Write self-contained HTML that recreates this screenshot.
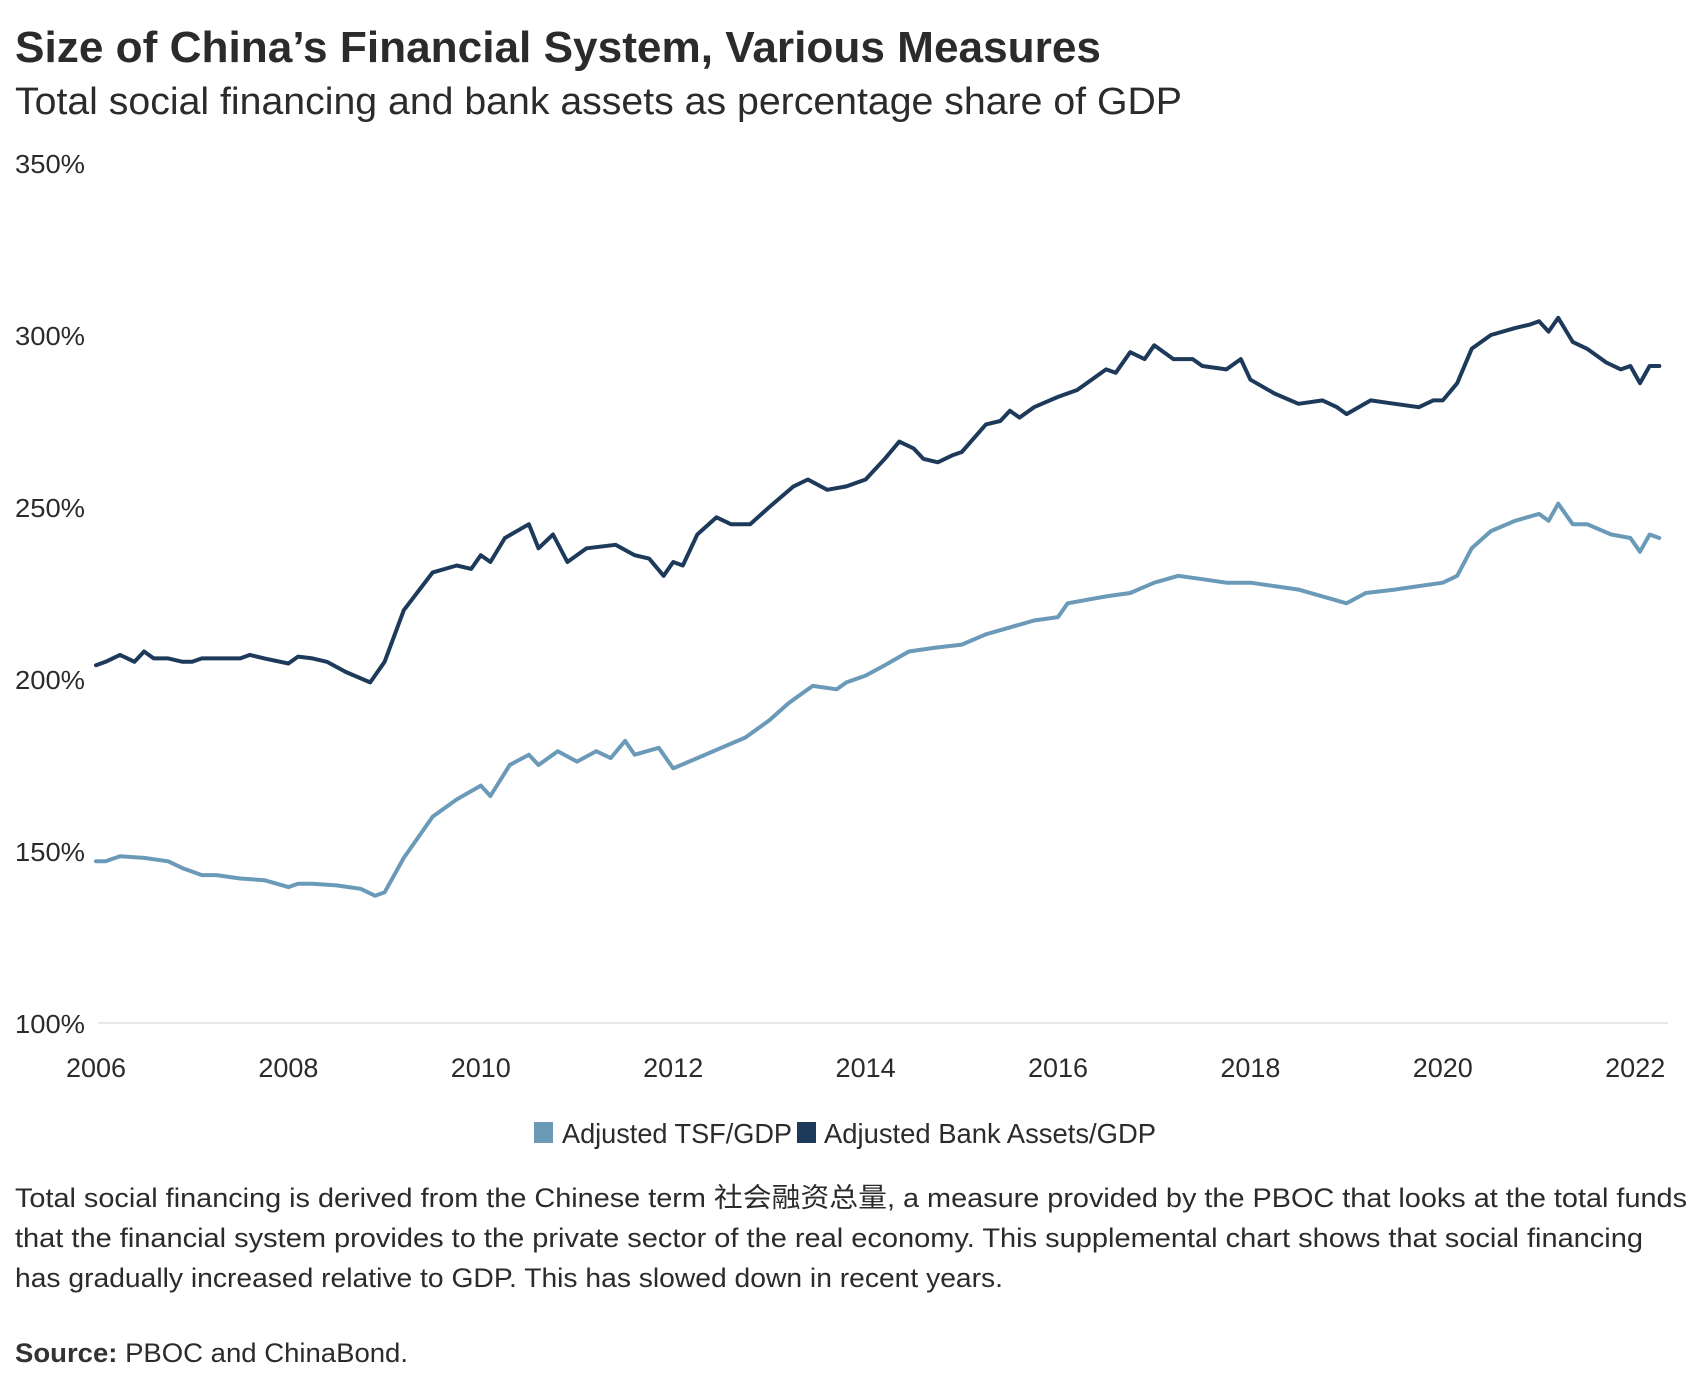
<!DOCTYPE html>
<html><head><meta charset="utf-8"><style>
body{margin:0;background:#fff;width:1706px;height:1386px;overflow:hidden}
svg{display:block}
text{font-family:"Liberation Sans","Noto Sans CJK SC",sans-serif;fill:#2b2b2b}
</style></head><body>
<svg id="chart" width="1706" height="1386" viewBox="0 0 1706 1386">
<text x="15" y="62" font-size="44" font-weight="bold" fill="#333" textLength="1086" lengthAdjust="spacingAndGlyphs">Size of China’s Financial System, Various Measures</text>
<text x="15" y="114" font-size="38" textLength="1167" lengthAdjust="spacingAndGlyphs">Total social financing and bank assets as percentage share of GDP</text>
<g id="axes"></g>
<g id="series"></g>
<g>
<rect x="534" y="1122" width="19" height="21" fill="#6a9ab8"/>
<text x="562" y="1143" font-size="28" textLength="230" lengthAdjust="spacingAndGlyphs">Adjusted TSF/GDP</text>
<rect x="797" y="1122" width="19" height="21" fill="#1e3a5a"/>
<text x="824" y="1143" font-size="28" textLength="332" lengthAdjust="spacingAndGlyphs">Adjusted Bank Assets/GDP</text>
</g>
<g font-size="27">
<text x="15" y="1207" textLength="1672" lengthAdjust="spacingAndGlyphs">Total social financing is derived from the Chinese term 社会融资总量, a measure provided by the PBOC that looks at the total funds</text>
<text x="15" y="1247" textLength="1628" lengthAdjust="spacingAndGlyphs">that the financial system provides to the private sector of the real economy. This supplemental chart shows that social financing</text>
<text x="15" y="1287" textLength="988" lengthAdjust="spacingAndGlyphs">has gradually increased relative to GDP. This has slowed down in recent years.</text>
<text x="15" y="1362" textLength="393" lengthAdjust="spacingAndGlyphs"><tspan font-weight="bold" fill="#333">Source:</tspan> PBOC and ChinaBond.</text>
</g>
</svg>
<script>
const yTicks=[100,150,200,250,300,350];
const yTickLabels=["100%","150%","200%","250%","300%","350%"];
const xTicks=[2006,2008,2010,2012,2014,2016,2018,2020,2022];
const xTickLabels=["2006","2008","2010","2012","2014","2016","2018","2020","2022"];
const bankYears=[2006.0,2006.1,2006.25,2006.4,2006.5,2006.6,2006.75,2006.9,2007,2007.1,2007.25,2007.5,2007.6,2007.75,2008,2008.1,2008.25,2008.4,2008.6,2008.85,2009.0,2009.2,2009.5,2009.75,2009.9,2010,2010.1,2010.25,2010.5,2010.6,2010.75,2010.9,2011.1,2011.4,2011.6,2011.75,2011.9,2012,2012.1,2012.25,2012.45,2012.6,2012.8,2013,2013.25,2013.4,2013.6,2013.8,2014,2014.2,2014.35,2014.5,2014.6,2014.75,2014.9,2015,2015.25,2015.4,2015.5,2015.6,2015.75,2016,2016.2,2016.5,2016.6,2016.75,2016.9,2017,2017.2,2017.4,2017.5,2017.75,2017.9,2018,2018.25,2018.5,2018.75,2018.9,2019,2019.25,2019.5,2019.75,2019.9,2020,2020.15,2020.3,2020.5,2020.75,2020.9,2021.0,2021.1,2021.2,2021.35,2021.5,2021.7,2021.85,2021.95,2022.05,2022.15,2022.25];
const bankValues=[204,205,207,205,208,206,206,205,205,206,206,206,207,206,204.5,206.5,206,205,202,199,205,220,231,233,232,236,234,241,245,238,242,234,238,239,236,235,230,234,233,242,247,245,245,250,256,258,255,256,258,264,269,267,264,263,265,266,274,275,278,276,279,282,284,290,289,295,293,297,293,293,291,290,293,287,283,280,281,279,277,281,280,279,281,281,286,296,300,302,303,304,301,305,298,296,292,290,291,286,291,291];
const tsfYears=[2006.0,2006.1,2006.25,2006.5,2006.75,2006.9,2007,2007.1,2007.25,2007.5,2007.75,2008,2008.1,2008.25,2008.5,2008.75,2008.9,2009.0,2009.2,2009.5,2009.75,2010,2010.1,2010.3,2010.5,2010.6,2010.8,2011.0,2011.2,2011.35,2011.5,2011.6,2011.85,2012.0,2012.25,2012.5,2012.75,2013.0,2013.2,2013.45,2013.7,2013.8,2014.0,2014.2,2014.45,2014.7,2015.0,2015.25,2015.5,2015.75,2016.0,2016.1,2016.5,2016.75,2017.0,2017.25,2017.5,2017.75,2018,2018.25,2018.5,2018.75,2019,2019.2,2019.5,2019.75,2020.0,2020.15,2020.3,2020.5,2020.75,2021.0,2021.1,2021.2,2021.35,2021.5,2021.75,2021.95,2022.05,2022.15,2022.25];
const tsfValues=[147,147,148.5,148,147,145,144,143,143,142,141.5,139.5,140.5,140.5,140,139,137,138,148,160,165,169,166,175,178,175,179,176,179,177,182,178,180,174,177,180,183,188,193,198,197,199,201,204,208,209,210,213,215,217,218,222,224,225,228,230,229,228,228,227,226,224,222,225,226,227,228,230,238,243,246,248,246,251,245,245,242,241,237,242,241];

const X0=96,PX=96.2,Y0=1023,PY=172/50;
function xs(v){return X0+(v-2006)*PX;}
function ys(v){return Y0-(v-100)*PY;}
const NS="http://www.w3.org/2000/svg";
const axes=document.getElementById('axes'),ser=document.getElementById('series');
const grid=document.createElementNS(NS,'line');


grid.setAttribute('x1',98);grid.setAttribute('x2',1668);grid.setAttribute('y1',ys(100));grid.setAttribute('y2',ys(100));
grid.setAttribute('stroke','#e8e8e8');grid.setAttribute('stroke-width','2');
axes.appendChild(grid);
yTicks.forEach((t,i)=>{const el=document.createElementNS(NS,'text');


el.setAttribute('x',15);el.setAttribute('y',ys(t)+10);el.setAttribute('font-size','26');
el.setAttribute('textLength','70');el.setAttribute('lengthAdjust','spacingAndGlyphs');
el.textContent=yTickLabels[i];axes.appendChild(el);});
xTicks.forEach((t,i)=>{const el=document.createElementNS(NS,'text');


el.setAttribute('x',xs(t));el.setAttribute('y',1077);el.setAttribute('font-size','27');
el.setAttribute('text-anchor','middle');
el.textContent=xTickLabels[i];axes.appendChild(el);});
function line(years,vals,color,name){const p=document.createElementNS(NS,'path');


p.setAttribute('d',years.map((y,i)=>(i?'L':'M')+xs(y).toFixed(1)+','+ys(vals[i]).toFixed(1)).join(''));
p.setAttribute('fill','none');p.setAttribute('stroke',color);p.setAttribute('stroke-width','4');
p.setAttribute('stroke-linejoin','round');p.setAttribute('stroke-linecap','round');ser.appendChild(p);}
line(tsfYears,tsfValues,'#6a9ab8','tsf-line');
line(bankYears,bankValues,'#1e3a5a','bank-assets-line');
</script>
</body></html>
